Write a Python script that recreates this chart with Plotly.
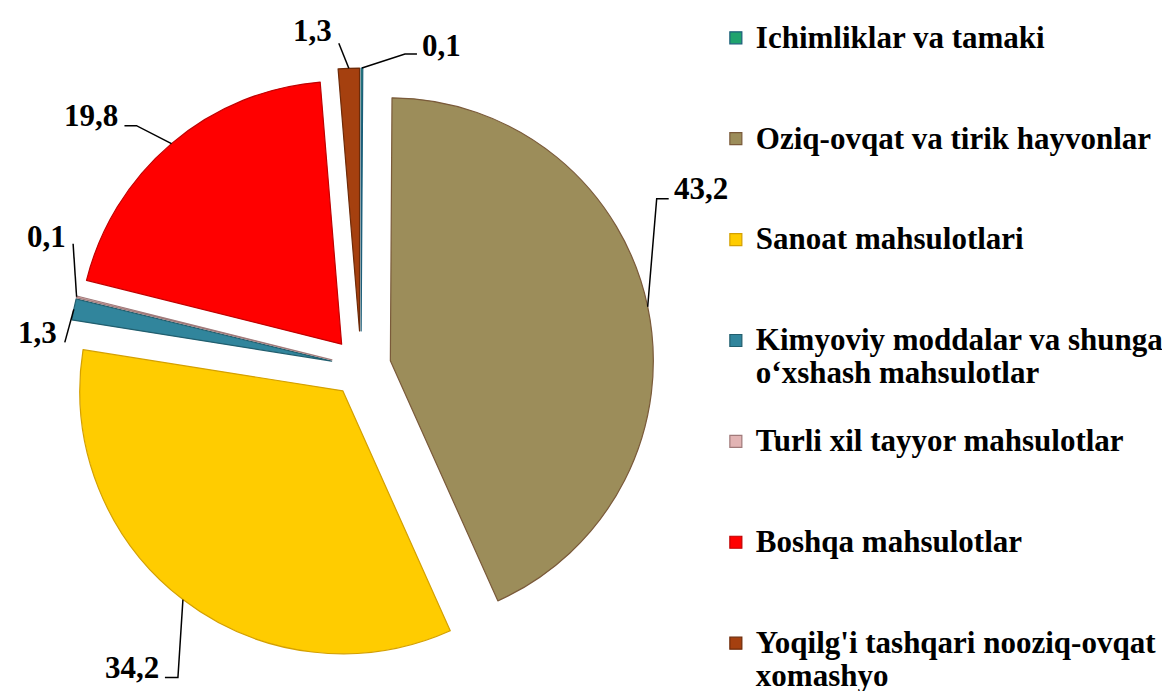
import math
import plotly.graph_objects as go

# ---- data ----
categories = [
    "Ichimliklar va tamaki",
    "Oziq-ovqat va tirik hayvonlar",
    "Sanoat mahsulotlari",
    "Kimyoviy moddalar va shunga<br>o‘xshash mahsulotlar",
    "Turli xil tayyor mahsulotlar",
    "Boshqa mahsulotlar",
    "Yoqilg'i tashqari nooziq-ovqat<br>xomashyo",
]
values = [0.1, 43.2, 34.2, 1.3, 0.1, 19.8, 1.3]

# ---- styles ----
colors = ["#1FA36E", "#9C8D5A", "#FFCC00", "#31859C", "#E2B4B4", "#FF0000", "#A5400F"]
line_colors = ["#1B5E7A", "#7A5A3A", "#D4A000", "#215E6E", "#A07A7A", "#C00000", "#6E2A08"]
pulls = [0.137, 0.114, 0.114, 0.114, 0.114, 0.114, 0.137]

# leader line geometry per label (pixels, relative to the slice edge point):
# knee offset, horizontal tail length, text side and text offset from line end
knee_dx = [43, 9, -5, -9, -3.5, -35, -10]
knee_dy = [-14, -108, 78, 33, -53, -18, -25]
tail_dx = [12, 12, -13, 0, 0, -12, 0]
text_side = ["left", "left", "right", "right", "right", "right", "right"]
text_dx = [3, 3, -4, -6, -5, -4, -5]
text_dy = [-9, -10, -10, -10, -7, -10, -13]

W, H = 1170, 691
dom_x = [0.04615, 0.5573]
dom_y = [0.04776, 0.91317]
legend_text_style = "font-family:'Liberation Serif';font-size:31px"

# legend labels: larger serif text, padded with blank lines so entries are evenly spaced
legend_labels = []
for k, c in enumerate(categories):
    lines = c.split("<br>")
    body = "<br>".join(f'<span style="{legend_text_style}">{ln}</span>' for ln in lines)
    if k < len(categories) - 1:
        body += "<br>\u00a0" * (3 - len(lines))
    legend_labels.append(body)

fig = go.Figure(go.Pie(
    labels=legend_labels,
    values=values,
    sort=False,
    direction="clockwise",
    rotation=0,
    pull=pulls,
    marker=dict(colors=colors, line=dict(color=line_colors, width=1.2)),
    textinfo="none",
    hoverinfo="value",
    domain=dict(x=dom_x, y=dom_y),
))

# geometry (same as plotly's pie scaling) to anchor the value labels
box_w = W * (dom_x[1] - dom_x[0])
box_h = H * (dom_y[1] - dom_y[0])
max_pull = max(pulls)
r = min(box_w, box_h) / (2 + 2 * max_pull)
cx = W * (dom_x[0] + dom_x[1]) / 2
cy = H * (1 - dom_y[0]) - box_h / 2
total = sum(values)
cum = 0
annotations = []
shapes = []
for i, v in enumerate(values):
    mid = (cum + v / 2) / total * 2 * math.pi
    cum += v
    dx, dy = math.sin(mid), -math.cos(mid)
    dist = r * (1 + pulls[i])
    tx, ty = cx + dist * dx, cy + dist * dy
    kx, ky = tx + knee_dx[i], ty + knee_dy[i]
    ex, ey = kx + tail_dx[i], ky
    path = f"M {tx/W} {1-ty/H} L {kx/W} {1-ky/H} L {ex/W} {1-ey/H}"
    shapes.append(dict(type="path", path=path, xref="paper", yref="paper",
                       line=dict(color="black", width=1.5)))
    annotations.append(dict(
        x=(ex + text_dx[i]) / W, y=1 - (ey + text_dy[i]) / H,
        xref="paper", yref="paper",
        xanchor=text_side[i], yanchor="middle",
        text=f"{v:.1f}".replace(".", ","),
        showarrow=False,
        font=dict(family="Liberation Serif", size=31, color="black", weight="bold"),
    ))

fig.update_layout(
    width=W, height=H,
    margin=dict(l=0, r=0, t=0, b=0),
    paper_bgcolor="white",
    plot_bgcolor="white",
    annotations=annotations,
    shapes=shapes,
    showlegend=True,
    legend=dict(
        x=0.605, xanchor="left", y=0.986, yanchor="top",
        valign="top",
        font=dict(family="Liberation Serif", size=25.1, color="black", weight="bold"),
        traceorder="normal",
        bgcolor="rgba(0,0,0,0)",
    ),
)

fig.write_html("out.html")
